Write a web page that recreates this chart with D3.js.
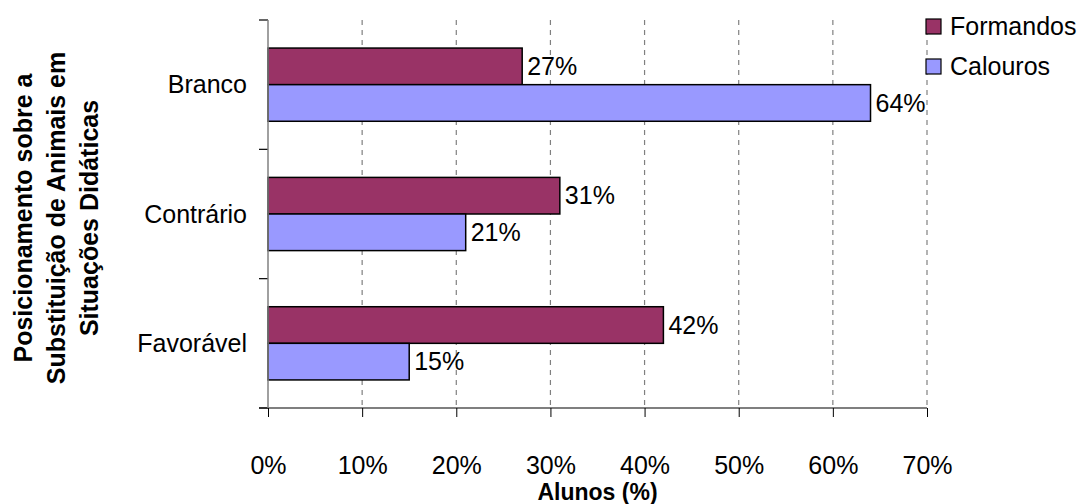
<!DOCTYPE html>
<html>
<head>
<meta charset="utf-8">
<script src="https://cdn.jsdelivr.net/npm/d3@7"></script>
<style>
  html, body { margin: 0; padding: 0; background: #fff; }
  svg { display: block; font-family: "Liberation Sans", Arial, sans-serif; }
</style>
</head>
<body>
<svg id="chart" width="1080" height="504"></svg>
<script>
// Categories, top to bottom
const categories = ["Branco", "Contrário", "Favorável"];
// Series values (%)
const formandos = [27, 31, 42];
const calouros = [64, 21, 15];
const seriesNames = ["Formandos", "Calouros"];
const seriesColors = ["#993366", "#9999FF"];
const xTicks = [0, 10, 20, 30, 40, 50, 60, 70];
const yTitleLines = ["Posicionamento sobre a", "Substituição de Animais em", "Situações Didáticas"];
const xTitle = "Alunos (%)";

const FONT = 25;
const svg = d3.select("#chart");
const plot = { left: 268, right: 927, top: 20, bottom: 408 };

const x = d3.scaleLinear().domain([0, 70]).range([plot.left, plot.right]);
const y = d3.scaleBand().domain(categories).range([plot.top, plot.bottom])
  .paddingInner(0.434).paddingOuter(0.217);
const ySub = d3.scaleBand().domain(seriesNames).range([0, y.bandwidth()]);

// Vertical dashed gridlines
svg.append("g").selectAll("line").data(xTicks.slice(1)).join("line")
  .attr("x1", d => x(d)).attr("x2", d => x(d))
  .attr("y1", plot.top).attr("y2", plot.bottom)
  .attr("stroke", "#808080").attr("stroke-width", 1.2)
  .attr("stroke-dasharray", "5,5");

// Bars
const rows = categories.map((c, i) => ({ cat: c, vals: [formandos[i], calouros[i]] }));
const groups = svg.append("g").selectAll("g").data(rows).join("g")
  .attr("transform", d => `translate(0,${y(d.cat)})`);

groups.selectAll("rect").data(d => d.vals.map((v, j) => ({ v, s: seriesNames[j], c: seriesColors[j] })))
  .join("rect")
  .attr("x", x(0))
  .attr("y", d => ySub(d.s))
  .attr("width", d => x(d.v) - x(0))
  .attr("height", ySub.bandwidth())
  .attr("fill", d => d.c)
  .attr("stroke", "#000").attr("stroke-width", 1.5);

// Value labels
groups.selectAll("text").data(d => d.vals.map((v, j) => ({ v, s: seriesNames[j] })))
  .join("text")
  .attr("x", d => x(d.v) + 5)
  .attr("y", d => ySub(d.s) + ySub.bandwidth() / 2)
  .attr("dy", "0.35em")
  .attr("font-size", FONT)
  .attr("fill", "#000")
  .text(d => d.v + "%");

// X axis
const xAxis = svg.append("g").attr("transform", `translate(0,${plot.bottom})`)
  .call(d3.axisBottom(x).tickValues(xTicks).tickFormat(d => d + "%").tickSize(9).tickPadding(39));
xAxis.select(".domain").remove();
xAxis.selectAll(".tick line").attr("stroke", "#000");
xAxis.selectAll(".tick text").attr("font-size", FONT).attr("font-family", "Liberation Sans, Arial, sans-serif").attr("fill", "#000");
svg.append("line").attr("x1", plot.left - 9).attr("x2", plot.right)
  .attr("y1", plot.bottom).attr("y2", plot.bottom).attr("stroke", "#000").attr("stroke-width", 1.2);

// Y axis: tick marks on category boundaries
const boundaries = [plot.top, ...categories.slice(1).map(c => y(c) - (y.step() - y.bandwidth()) / 2), plot.bottom];
svg.append("g").selectAll("line").data(boundaries).join("line")
  .attr("x1", plot.left - 9).attr("x2", plot.left)
  .attr("y1", d => d).attr("y2", d => d)
  .attr("stroke", "#000").attr("stroke-width", 1.2);
svg.append("line").attr("x1", plot.left).attr("x2", plot.left)
  .attr("y1", plot.top).attr("y2", plot.bottom).attr("stroke", "#808080").attr("stroke-width", 1.5);

svg.append("g").selectAll("text").data(categories).join("text")
  .attr("x", plot.left - 21)
  .attr("y", d => y(d) + y.bandwidth() / 2)
  .attr("dy", "0.35em")
  .attr("text-anchor", "end")
  .attr("font-size", FONT)
  .text(d => d);

// Axis titles
svg.append("text")
  .attr("x", (plot.left + plot.right) / 2).attr("y", 500)
  .attr("text-anchor", "middle").attr("font-size", 23).attr("font-weight", "bold")
  .text(xTitle);

const yt = svg.append("text")
  .attr("transform", "translate(0,218) rotate(-90)")
  .attr("text-anchor", "middle").attr("font-size", FONT).attr("font-weight", "bold");
yTitleLines.forEach((t, i) => {
  yt.append("tspan").attr("x", 0).attr("y", 32 + i * 33).text(t);
});

// Legend
const legend = svg.append("g").selectAll("g").data(seriesNames).join("g")
  .attr("transform", (d, i) => `translate(926,${19 + i * 40})`);
legend.append("rect").attr("width", 15).attr("height", 15)
  .attr("fill", (d, i) => seriesColors[i]).attr("stroke", "#000").attr("stroke-width", 1.2);
legend.append("text").attr("x", 24).attr("y", 7.5).attr("dy", "0.35em")
  .attr("font-size", FONT).text(d => d);
</script>
</body>
</html>
